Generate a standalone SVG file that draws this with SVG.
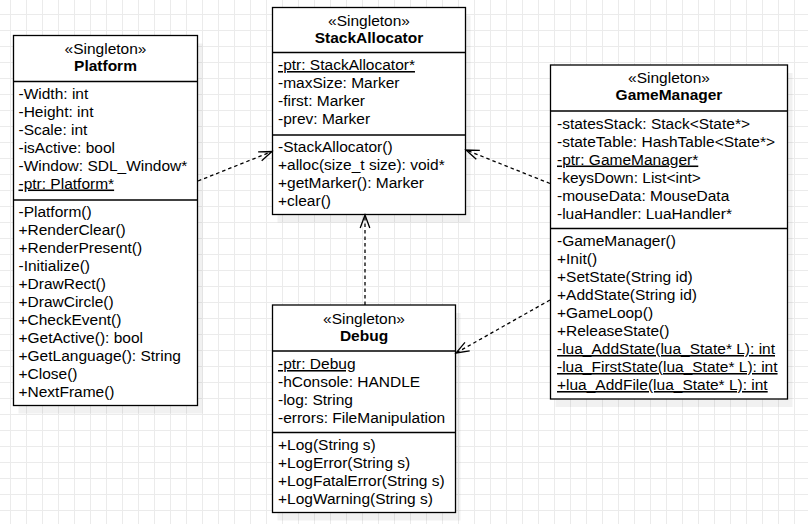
<svg xmlns="http://www.w3.org/2000/svg" width="808" height="524" viewBox="0 0 808 524">
<defs>
<pattern id="grid" patternUnits="userSpaceOnUse" x="10" y="14" width="16" height="16">
<path d="M0.5 0 V16 M0 0.5 H16" stroke="#ebebeb" stroke-width="1" fill="none"/>
</pattern>
<marker id="open" markerUnits="userSpaceOnUse" markerWidth="20" markerHeight="16" viewBox="-15 -8 17 16" refX="0" refY="0" orient="auto" overflow="visible">
<path d="M-13 -4.8 L0 0 L-13 4.8" fill="none" stroke="#000" stroke-width="1.3"/>
</marker>
<style>
.box{fill:#fff;stroke:#000;stroke-width:1.3}
.shadow{fill:#000;fill-opacity:0.055}
.div{stroke:#000;stroke-width:1.3}
text{font-family:"Liberation Sans",Arial,Helvetica,sans-serif;font-size:15.5px;fill:#000}
.st{text-anchor:middle}
.nm{text-anchor:middle;font-weight:bold}
.u{text-decoration:underline}
.conn{fill:none;stroke:#000;stroke-width:1.3;stroke-dasharray:3.5 3}
</style>
</defs>
<rect width="808" height="524" fill="#fff"/>
<rect width="808" height="524" fill="url(#grid)"/>

<g id="platform">
<rect class="shadow" x="18.5" y="43.5" width="184" height="370"/>
<rect class="box" x="13.5" y="35.5" width="184" height="370"/>
<line class="div" x1="13.5" y1="81.5" x2="197.5" y2="81.5"/>
<line class="div" x1="13.5" y1="200" x2="197.5" y2="200"/>
<text class="st" x="105.5" y="54">«Singleton»</text>
<text class="nm" x="105.5" y="71">Platform</text>
<text x="18.5" y="98.5">-Width: int</text>
<text x="18.5" y="116.5">-Height: int</text>
<text x="18.5" y="134.5">-Scale: int</text>
<text x="18.5" y="152.5">-isActive: bool</text>
<text x="18.5" y="170.5">-Window: SDL_Window*</text>
<text x="18.5" y="188.5" class="u">-ptr: Platform*</text>
<text x="18.5" y="216.5">-Platform()</text>
<text x="18.5" y="234.5">+RenderClear()</text>
<text x="18.5" y="252.5">+RenderPresent()</text>
<text x="18.5" y="270.5">-Initialize()</text>
<text x="18.5" y="288.5">+DrawRect()</text>
<text x="18.5" y="306.5">+DrawCircle()</text>
<text x="18.5" y="324.5">+CheckEvent()</text>
<text x="18.5" y="342.5">+GetActive(): bool</text>
<text x="18.5" y="360.5">+GetLanguage(): String</text>
<text x="18.5" y="378.5">+Close()</text>
<text x="18.5" y="396.5">+NextFrame()</text>
</g>

<g id="stackallocator">
<rect class="shadow" x="277.5" y="15.5" width="193" height="207"/>
<rect class="box" x="272.5" y="7.5" width="193" height="207"/>
<line class="div" x1="272.5" y1="52.5" x2="465.5" y2="52.5"/>
<line class="div" x1="272.5" y1="135" x2="465.5" y2="135"/>
<text class="st" x="369" y="25.5">«Singleton»</text>
<text class="nm" x="369" y="43">StackAllocator</text>
<text x="278" y="70" class="u">-ptr: StackAllocator*</text>
<text x="278" y="88">-maxSize: Marker</text>
<text x="278" y="106">-first: Marker</text>
<text x="278" y="124">-prev: Marker</text>
<text x="278" y="152">-StackAllocator()</text>
<text x="278" y="170">+alloc(size_t size): void*</text>
<text x="278" y="188">+getMarker(): Marker</text>
<text x="278" y="206">+clear()</text>
</g>

<g id="debug">
<rect class="shadow" x="277.5" y="313" width="183" height="207.5"/>
<rect class="box" x="272.5" y="305" width="183" height="207.5"/>
<line class="div" x1="272.5" y1="351" x2="455.5" y2="351"/>
<line class="div" x1="272.5" y1="432.5" x2="455.5" y2="432.5"/>
<text class="st" x="364" y="323.5">«Singleton»</text>
<text class="nm" x="364" y="341">Debug</text>
<text x="278" y="369" class="u">-ptr: Debug</text>
<text x="278" y="387">-hConsole: HANDLE</text>
<text x="278" y="405">-log: String</text>
<text x="278" y="423">-errors: FileManipulation</text>
<text x="278" y="450">+Log(String s)</text>
<text x="278" y="468">+LogError(String s)</text>
<text x="278" y="486">+LogFatalError(String s)</text>
<text x="278" y="504">+LogWarning(String s)</text>
</g>

<g id="gamemanager">
<rect class="shadow" x="555.5" y="73" width="237" height="334"/>
<rect class="box" x="550.5" y="65" width="237" height="334"/>
<line class="div" x1="550.5" y1="111" x2="787.5" y2="111"/>
<line class="div" x1="550.5" y1="228.5" x2="787.5" y2="228.5"/>
<text class="st" x="669" y="82.5">«Singleton»</text>
<text class="nm" x="669" y="100">GameManager</text>
<text x="557" y="128.5">-statesStack: Stack&lt;State*&gt;</text>
<text x="557" y="146.5">-stateTable: HashTable&lt;State*&gt;</text>
<text x="557" y="164.5" class="u">-ptr: GameManager*</text>
<text x="557" y="182.5">-keysDown: List&lt;int&gt;</text>
<text x="557" y="200.5">-mouseData: MouseData</text>
<text x="557" y="218.5">-luaHandler: LuaHandler*</text>
<text x="557" y="246">-GameManager()</text>
<text x="557" y="264">+Init()</text>
<text x="557" y="282">+SetState(String id)</text>
<text x="557" y="300">+AddState(String id)</text>
<text x="557" y="318">+GameLoop()</text>
<text x="557" y="336">+ReleaseState()</text>
<text x="557" y="354" class="u">-lua_AddState(lua_State* L): int</text>
<text x="557" y="372" class="u">-lua_FirstState(lua_State* L): int</text>
<text x="557" y="390" class="u">+lua_AddFile(lua_State* L): int</text>
</g>

<g id="connectors">
<line class="conn" x1="198" y1="181" x2="272" y2="151.5" marker-end="url(#open)"/>
<line class="conn" x1="550" y1="183.5" x2="466" y2="150" marker-end="url(#open)"/>
<line class="conn" x1="365" y1="305" x2="365" y2="215" marker-end="url(#open)"/>
<line class="conn" x1="550" y1="300" x2="456" y2="353" marker-end="url(#open)"/>
</g>
</svg>
